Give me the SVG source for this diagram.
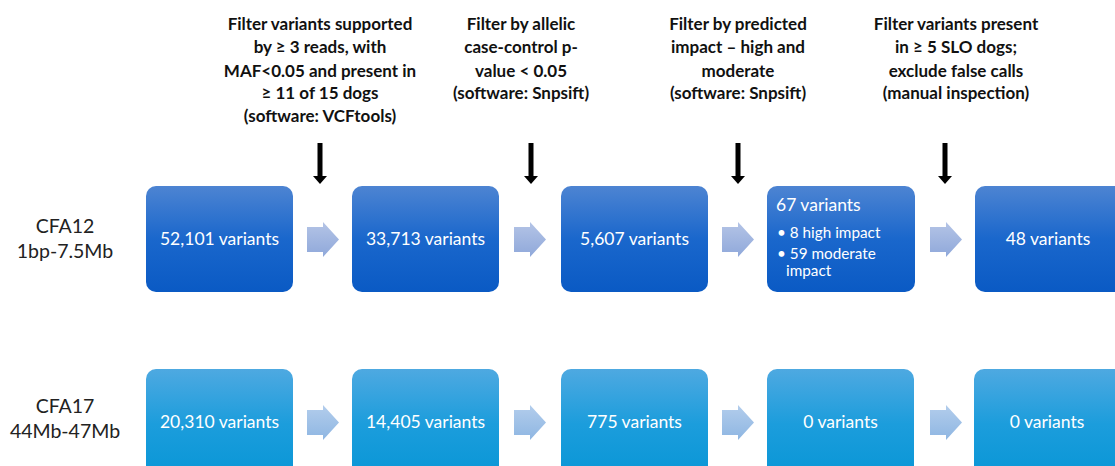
<svg xmlns="http://www.w3.org/2000/svg" width="1115" height="466" viewBox="0 0 1115 466">
<defs>
<linearGradient id="g1" x1="0" y1="0" x2="0" y2="1"><stop offset="0" stop-color="#4d84d2"/><stop offset="0.5" stop-color="#1a67cc"/><stop offset="1" stop-color="#0a5ac4"/></linearGradient>
<linearGradient id="g2" x1="0" y1="0" x2="0" y2="1"><stop offset="0" stop-color="#4ea9e1"/><stop offset="0.5" stop-color="#1c9ddc"/><stop offset="1" stop-color="#0896d6"/></linearGradient>
<linearGradient id="ga1" x1="0" y1="0" x2="0" y2="1"><stop offset="0" stop-color="#b4c4e6"/><stop offset="1" stop-color="#8fa8da"/></linearGradient>
<linearGradient id="ga2" x1="0" y1="0" x2="0" y2="1"><stop offset="0" stop-color="#b3cdec"/><stop offset="1" stop-color="#8eb6e2"/></linearGradient>
<path id="chev" d="M0,5 H16 V0 L32,17.5 L16,35 V30 H0 Z"/>
<path id="down" d="M-2.5,0 H2.5 V33 H7 L0,41 L-7,33 H-2.5 Z"/>
</defs>
<style>
.hdr{font-family:Lato,"Open Sans",sans-serif;font-weight:bold;font-size:17px;fill:#111;text-anchor:middle}
.lbl{font-family:Lato,"Open Sans",sans-serif;font-size:19.5px;fill:#222;text-anchor:middle}
.bt{font-family:Lato,"Open Sans",sans-serif;font-size:17.5px;fill:#fff;text-anchor:middle}
.bl{font-family:Lato,"Open Sans",sans-serif;font-size:15.3px;fill:#fff}
.bh{font-family:Lato,"Open Sans",sans-serif;font-size:17.5px;fill:#fff}
.b1{fill:url(#g1)}
.b2{fill:url(#g2)}
</style>
<g id="headers">
<text class="hdr"><tspan x="320" y="30">Filter variants supported</tspan><tspan x="320" y="53">by ≥ 3 reads, with</tspan><tspan x="320" y="77">MAF&lt;0.05 and present in</tspan><tspan x="320" y="99">≥ 11 of 15 dogs</tspan><tspan x="320" y="122">(software: VCFtools)</tspan></text>
<text class="hdr"><tspan x="521" y="30">Filter by allelic</tspan><tspan x="521" y="53">case-control p-</tspan><tspan x="521" y="77">value &lt; 0.05</tspan><tspan x="521" y="99">(software: Snpsift)</tspan></text>
<text class="hdr"><tspan x="738" y="30">Filter by predicted</tspan><tspan x="738" y="53">impact – high and</tspan><tspan x="738" y="77">moderate</tspan><tspan x="738" y="99">(software: Snpsift)</tspan></text>
<text class="hdr"><tspan x="956" y="30">Filter variants present</tspan><tspan x="956" y="53">in ≥ 5 SLO dogs;</tspan><tspan x="956" y="77">exclude false calls</tspan><tspan x="956" y="99">(manual inspection)</tspan></text>
</g>
<g id="labels">
<text class="lbl"><tspan x="65" y="233">CFA12</tspan><tspan x="65" y="258">1bp-7.5Mb</tspan></text>
<text class="lbl"><tspan x="65" y="413">CFA17</tspan><tspan x="65" y="438">44Mb-47Mb</tspan></text>
</g>
<g id="connectors">
<use href="#down" x="320" y="143" fill="#000"/>
<use href="#down" x="531" y="143" fill="#000"/>
<use href="#down" x="738" y="143" fill="#000"/>
<use href="#down" x="945" y="143" fill="#000"/>
<g fill="url(#ga1)">
<use href="#chev" x="307" y="222"/>
<use href="#chev" x="514" y="222"/>
<use href="#chev" x="722" y="222"/>
<use href="#chev" x="930" y="222"/>
</g>
<g fill="url(#ga2)">
<use href="#chev" x="307" y="405"/>
<use href="#chev" x="514" y="405"/>
<use href="#chev" x="722" y="405"/>
<use href="#chev" x="930" y="405"/>
</g>
</g>
<g id="r1n1"><rect class="b1" x="146" y="186" width="147" height="106" rx="10"/><text class="bt" x="219.5" y="245">52,101 variants</text></g>
<g id="r1n2"><rect class="b1" x="352" y="186" width="147" height="106" rx="10"/><text class="bt" x="425.5" y="245">33,713 variants</text></g>
<g id="r1n3"><rect class="b1" x="561" y="186" width="147" height="106" rx="10"/><text class="bt" x="634.5" y="245">5,607 variants</text></g>
<g id="r1n4"><rect class="b1" x="767" y="186" width="148" height="106" rx="10"/>
<text class="bh" x="776" y="211">67 variants</text>
<text class="bl"><tspan x="777" y="238">• 8 high impact</tspan><tspan x="777" y="259">• 59 moderate</tspan><tspan x="786" y="276">impact</tspan></text></g>
<g id="r1n5"><rect class="b1" x="975" y="186" width="150" height="106" rx="10"/><text class="bt" x="1048" y="245">48 variants</text></g>
<g id="r2n1"><rect class="b2" x="146" y="369" width="147" height="110" rx="10"/><text class="bt" x="219.5" y="428">20,310 variants</text></g>
<g id="r2n2"><rect class="b2" x="352" y="369" width="147" height="110" rx="10"/><text class="bt" x="425.5" y="428">14,405 variants</text></g>
<g id="r2n3"><rect class="b2" x="561" y="369" width="147" height="110" rx="10"/><text class="bt" x="634.5" y="428">775 variants</text></g>
<g id="r2n4"><rect class="b2" x="767" y="369" width="147" height="110" rx="10"/><text class="bt" x="840.5" y="428">0 variants</text></g>
<g id="r2n5"><rect class="b2" x="974" y="369" width="150" height="110" rx="10"/><text class="bt" x="1047" y="428">0 variants</text></g>
</svg>
